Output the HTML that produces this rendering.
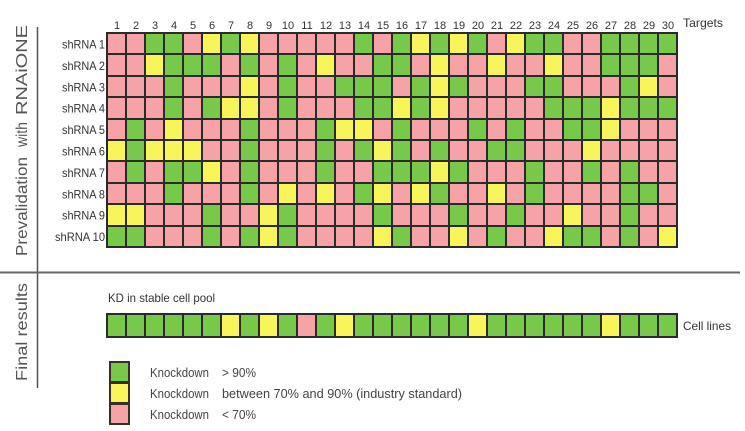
<!DOCTYPE html>
<html><head><meta charset="utf-8">
<style>
html,body{margin:0;padding:0;background:#fff;}
body{width:745px;height:431px;position:relative;overflow:hidden;font-family:"Liberation Sans",Arial,sans-serif;}
.grid{position:absolute;left:106px;top:32px;background:#2a2a2a;padding:2px;display:grid;grid-template-columns:repeat(30,17px);grid-auto-rows:19.4px;gap:2px;}
.cl{position:absolute;left:106px;top:313px;background:#2a2a2a;padding:2px;display:grid;grid-template-columns:repeat(30,17px);grid-auto-rows:21px;gap:2px;}
b{display:block}
.r{background:#f5a3a6}.g{background:#78c84a}.y{background:#f8f55a}
.lg{position:absolute;left:109px;width:17px;height:18px;border:2px solid #3a2e22;}
svg{position:absolute;left:0;top:0;}
</style></head><body>
<div class="grid" id="g">
<b class=r></b><b class=r></b><b class=g></b><b class=g></b><b class=r></b><b class=y></b><b class=g></b><b class=y></b><b class=r></b><b class=r></b><b class=r></b><b class=r></b><b class=r></b><b class=g></b><b class=r></b><b class=g></b><b class=y></b><b class=g></b><b class=y></b><b class=g></b><b class=r></b><b class=y></b><b class=g></b><b class=g></b><b class=r></b><b class=r></b><b class=g></b><b class=g></b><b class=g></b><b class=g></b>
<b class=r></b><b class=r></b><b class=y></b><b class=g></b><b class=g></b><b class=g></b><b class=r></b><b class=g></b><b class=r></b><b class=g></b><b class=r></b><b class=y></b><b class=r></b><b class=r></b><b class=g></b><b class=g></b><b class=r></b><b class=y></b><b class=r></b><b class=r></b><b class=y></b><b class=r></b><b class=r></b><b class=y></b><b class=r></b><b class=r></b><b class=g></b><b class=g></b><b class=g></b><b class=r></b>
<b class=r></b><b class=r></b><b class=r></b><b class=g></b><b class=r></b><b class=r></b><b class=r></b><b class=y></b><b class=r></b><b class=g></b><b class=r></b><b class=r></b><b class=g></b><b class=g></b><b class=g></b><b class=r></b><b class=g></b><b class=y></b><b class=g></b><b class=r></b><b class=r></b><b class=r></b><b class=g></b><b class=g></b><b class=r></b><b class=r></b><b class=r></b><b class=g></b><b class=y></b><b class=r></b>
<b class=r></b><b class=r></b><b class=r></b><b class=g></b><b class=r></b><b class=g></b><b class=y></b><b class=y></b><b class=r></b><b class=g></b><b class=r></b><b class=r></b><b class=r></b><b class=g></b><b class=g></b><b class=y></b><b class=g></b><b class=y></b><b class=r></b><b class=r></b><b class=r></b><b class=r></b><b class=r></b><b class=g></b><b class=g></b><b class=g></b><b class=y></b><b class=g></b><b class=g></b><b class=g></b>
<b class=r></b><b class=g></b><b class=r></b><b class=y></b><b class=r></b><b class=r></b><b class=r></b><b class=g></b><b class=r></b><b class=r></b><b class=r></b><b class=g></b><b class=y></b><b class=y></b><b class=r></b><b class=g></b><b class=r></b><b class=r></b><b class=r></b><b class=g></b><b class=r></b><b class=g></b><b class=r></b><b class=r></b><b class=g></b><b class=g></b><b class=y></b><b class=r></b><b class=r></b><b class=r></b>
<b class=y></b><b class=g></b><b class=y></b><b class=y></b><b class=y></b><b class=r></b><b class=r></b><b class=g></b><b class=r></b><b class=r></b><b class=r></b><b class=g></b><b class=r></b><b class=g></b><b class=y></b><b class=g></b><b class=r></b><b class=g></b><b class=r></b><b class=r></b><b class=g></b><b class=g></b><b class=r></b><b class=r></b><b class=r></b><b class=y></b><b class=r></b><b class=r></b><b class=r></b><b class=r></b>
<b class=r></b><b class=g></b><b class=r></b><b class=g></b><b class=g></b><b class=y></b><b class=r></b><b class=g></b><b class=r></b><b class=r></b><b class=r></b><b class=g></b><b class=r></b><b class=r></b><b class=g></b><b class=g></b><b class=g></b><b class=y></b><b class=g></b><b class=r></b><b class=r></b><b class=r></b><b class=g></b><b class=r></b><b class=r></b><b class=g></b><b class=r></b><b class=g></b><b class=r></b><b class=r></b>
<b class=r></b><b class=r></b><b class=r></b><b class=g></b><b class=r></b><b class=r></b><b class=r></b><b class=g></b><b class=r></b><b class=y></b><b class=r></b><b class=y></b><b class=r></b><b class=g></b><b class=y></b><b class=r></b><b class=y></b><b class=g></b><b class=r></b><b class=r></b><b class=y></b><b class=r></b><b class=g></b><b class=r></b><b class=r></b><b class=r></b><b class=r></b><b class=g></b><b class=g></b><b class=r></b>
<b class=y></b><b class=y></b><b class=r></b><b class=r></b><b class=r></b><b class=g></b><b class=r></b><b class=r></b><b class=y></b><b class=g></b><b class=r></b><b class=r></b><b class=r></b><b class=r></b><b class=g></b><b class=r></b><b class=r></b><b class=r></b><b class=g></b><b class=r></b><b class=r></b><b class=g></b><b class=r></b><b class=r></b><b class=y></b><b class=r></b><b class=r></b><b class=g></b><b class=r></b><b class=r></b>
<b class=g></b><b class=g></b><b class=r></b><b class=r></b><b class=r></b><b class=g></b><b class=r></b><b class=g></b><b class=y></b><b class=g></b><b class=r></b><b class=r></b><b class=r></b><b class=r></b><b class=y></b><b class=g></b><b class=r></b><b class=r></b><b class=y></b><b class=r></b><b class=g></b><b class=r></b><b class=r></b><b class=y></b><b class=g></b><b class=g></b><b class=r></b><b class=g></b><b class=r></b><b class=y></b>
</div>
<div class="cl">
<b class=g></b><b class=g></b><b class=g></b><b class=g></b><b class=g></b><b class=g></b><b class=y></b><b class=g></b><b class=y></b><b class=g></b><b class=r></b><b class=g></b><b class=y></b><b class=g></b><b class=g></b><b class=g></b><b class=g></b><b class=g></b><b class=g></b><b class=y></b><b class=g></b><b class=g></b><b class=g></b><b class=g></b><b class=g></b><b class=g></b><b class=y></b><b class=g></b><b class=g></b><b class=g></b>
</div>
<div class="lg g" style="top:361px"></div>
<div class="lg y" style="top:382px"></div>
<div class="lg r" style="top:403px"></div>
<svg width="745" height="431" viewBox="0 0 745 431" font-family="Liberation Sans, Arial, sans-serif">
<line x1="37.5" y1="27" x2="37.5" y2="388" stroke="#555" stroke-width="1.5"/>
<line x1="0" y1="272.5" x2="740" y2="272.5" stroke="#666" stroke-width="2"/>
<g fill="#555" font-size="16">
<text transform="translate(27,256) rotate(-90)" textLength="99" lengthAdjust="spacingAndGlyphs">Prevalidation</text>
<text transform="translate(27,147) rotate(-90)" textLength="25" lengthAdjust="spacingAndGlyphs">with</text>
<text transform="translate(27,115) rotate(-90)" textLength="90" lengthAdjust="spacingAndGlyphs">RNAiONE</text>
<text transform="translate(27,381) rotate(-90)" textLength="98" lengthAdjust="spacingAndGlyphs">Final results</text>
</g>
<g fill="#333" font-size="11" text-anchor="middle">
<text x="117" y="29">1</text><text x="136" y="29">2</text><text x="155" y="29">3</text><text x="174" y="29">4</text><text x="193" y="29">5</text><text x="212" y="29">6</text><text x="231" y="29">7</text><text x="250" y="29">8</text><text x="269" y="29">9</text><text x="288" y="29">10</text><text x="307" y="29">11</text><text x="326" y="29">12</text><text x="345" y="29">13</text><text x="364" y="29">14</text><text x="383" y="29">15</text><text x="402" y="29">16</text><text x="421" y="29">17</text><text x="440" y="29">18</text><text x="459" y="29">19</text><text x="478" y="29">20</text><text x="497" y="29">21</text><text x="516" y="29">22</text><text x="535" y="29">23</text><text x="554" y="29">24</text><text x="573" y="29">25</text><text x="592" y="29">26</text><text x="611" y="29">27</text><text x="630" y="29">28</text><text x="649" y="29">29</text><text x="668" y="29">30</text>
</g>
<text x="683" y="27" fill="#333" font-size="12" textLength="40" lengthAdjust="spacingAndGlyphs">Targets</text>
<g fill="#333" font-size="12">
<text x="62" y="48.5" textLength="43" lengthAdjust="spacingAndGlyphs">shRNA 1</text>
<text x="62" y="69.9" textLength="43" lengthAdjust="spacingAndGlyphs">shRNA 2</text>
<text x="62" y="91.3" textLength="43" lengthAdjust="spacingAndGlyphs">shRNA 3</text>
<text x="62" y="112.7" textLength="43" lengthAdjust="spacingAndGlyphs">shRNA 4</text>
<text x="62" y="134.1" textLength="43" lengthAdjust="spacingAndGlyphs">shRNA 5</text>
<text x="62" y="155.5" textLength="43" lengthAdjust="spacingAndGlyphs">shRNA 6</text>
<text x="62" y="176.9" textLength="43" lengthAdjust="spacingAndGlyphs">shRNA 7</text>
<text x="62" y="198.3" textLength="43" lengthAdjust="spacingAndGlyphs">shRNA 8</text>
<text x="62" y="219.7" textLength="43" lengthAdjust="spacingAndGlyphs">shRNA 9</text>
<text x="55" y="241.1" textLength="50" lengthAdjust="spacingAndGlyphs">shRNA 10</text>
</g>
<text x="108" y="302" fill="#333" font-size="12" textLength="107" lengthAdjust="spacingAndGlyphs">KD in stable cell pool</text>
<text x="683" y="330" fill="#333" font-size="12" textLength="48" lengthAdjust="spacingAndGlyphs">Cell lines</text>
<g fill="#444" font-size="12.5">
<text x="150" y="377" textLength="59" lengthAdjust="spacingAndGlyphs">Knockdown</text>
<text x="222" y="377" textLength="34" lengthAdjust="spacingAndGlyphs">&gt; 90%</text>
<text x="150" y="398" textLength="59" lengthAdjust="spacingAndGlyphs">Knockdown</text>
<text x="222" y="398" textLength="240" lengthAdjust="spacingAndGlyphs">between 70% and 90% (industry standard)</text>
<text x="150" y="419" textLength="59" lengthAdjust="spacingAndGlyphs">Knockdown</text>
<text x="222" y="419" textLength="34" lengthAdjust="spacingAndGlyphs">&lt; 70%</text>
</g>
</svg>
</body></html>
